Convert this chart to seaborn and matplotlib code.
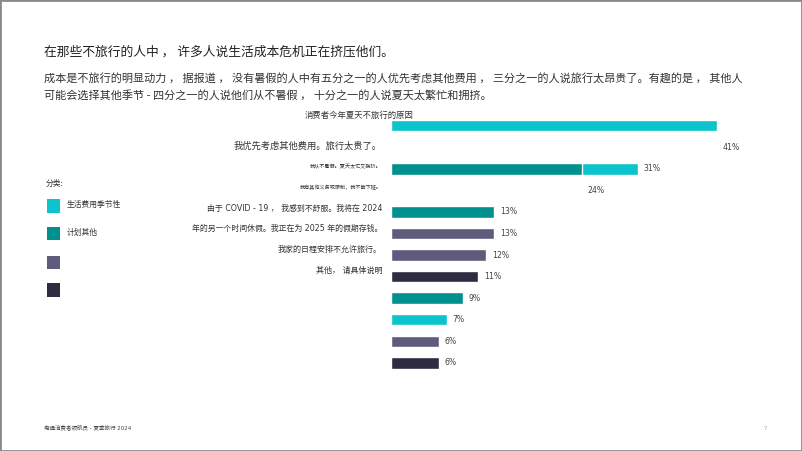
import matplotlib
matplotlib.use("Agg")
import matplotlib.pyplot as plt
from matplotlib.patches import Rectangle
import seaborn as sns
import pandas as pd

# ---------------- data ----------------
slots = [f"r{i}" for i in range(12)]
bar_slot = [0, 2, 2, 4, 5, 6, 7, 8, 9, 10, 11]
bar_value = [41, 31, 24, 13, 13, 12, 11, 9, 7, 6, 6]
bar_group = ["生活费用", "生活费用", "季节性", "季节性", "计划", "计划",
             "其他", "季节性", "生活费用", "计划", "其他"]
label_slot = [1, 2, 3, 4, 5, 6, 7, 8, 9, 10, 11]

groups = ["生活费用", "季节性", "计划", "其他"]
group_colors = ["#0BC4CC", "#00918F", "#5E5C7C", "#2E2C40"]
legend_title = "分类:"
legend_labels = ["生活费用季节性", "计划其他", "", ""]

chart_title = "消费者今年夏天不旅行的原因"
reason_labels = [
    "我优先考虑其他费用。旅行太贵了。",
    "我从不暑假。夏天太忙又拥挤。",
    "我有其他义务或限制，我不能下班。",
    "由于 COVID - 19 ， 我感到不舒服。我将在 2024",
    "年的另一个时间休假。我正在为 2025 年的假期存钱。",
    "我家的日程安排不允许旅行。",
    "其他， 请具体说明",
]

title = "在那些不旅行的人中 ， 许多人说生活成本危机正在挤压他们。"
subtitle_lines = [
    "成本是不旅行的明显动力 ， 据报道 ， 没有暑假的人中有五分之一的人优先考虑其他费用 ， 三分之一的人说旅行太昂贵了。有趣的是 ， 其他人",
    "可能会选择其他季节 - 四分之一的人说他们从不暑假 ， 十分之一的人说夏天太繁忙和拥挤。",
]
footer = "电通消费者领航员 - 夏季旅行 2024"
page_no = "7"

# ---------------- style ----------------
sns.set_style("white")
CJK = ["Noto Sans CJK SC", "DejaVu Sans"]
MIX = ["DejaVu Sans", "Noto Sans CJK SC"]
plt.rcParams["font.family"] = CJK

W, H = 802, 451
fig = plt.figure(figsize=(W / 100, H / 100), dpi=100)


def fx(x):
    return x / W


def fy(y):
    return 1 - y / H


# chart axes
ax = fig.add_axes([fx(391), fy(373.6), (397.6) / W, (373.6 - 114.9) / H])
df = pd.DataFrame({
    "slot": [slots[i] for i in bar_slot],
    "value": bar_value,
    "group": bar_group,
})
sns.barplot(data=df, x="value", y="slot", hue="group", hue_order=groups,
            palette=dict(zip(groups, group_colors)), order=slots, dodge=False,
            width=0.53, orient="h", legend=False, ax=ax, saturation=1,
            errorbar=None)
ax.set_xlim(0, 50)
ax.set_ylim(11.5, -0.5)
ax.axis("off")

for v, s in zip(bar_value, label_slot):
    ax.text(v + 0.7, s, f"{v}%", va="center", ha="left", fontsize=5.6,
            family="DejaVu Sans", color="#444444")

# chart title (overlapping the first bar, as in the reference)
fig.text(fx(305), fy(115), chart_title, fontsize=6, va="center", ha="left",
         color="#333333", family=CJK)

# reason labels
reason_y = [146, 167, 187, 208, 228, 249, 270]
reason_size = [6.7, 3.7, 3.7, 5.7, 5.7, 5.8, 5.8]
for txt, y, s in zip(reason_labels, reason_y, reason_size):
    fig.text(fx(382), fy(y), txt, fontsize=s, va="center", ha="right",
             color="#333333", family=MIX)

# legend (manual)
fig.text(fx(46), fy(184), legend_title, fontsize=5.6, va="center", ha="left",
         color="#333333", family=CJK)
leg_y = [206, 233.5, 262.5, 290]
for c, lab, y in zip(group_colors, legend_labels, leg_y):
    fig.patches.append(Rectangle((fx(47), fy(y + 6.7)), 13.4 / W, 13.4 / H,
                                 transform=fig.transFigure, facecolor=c,
                                 edgecolor="none"))
    if lab:
        fig.text(fx(67), fy(y - 1), lab, fontsize=5.6, va="center", ha="left",
                 color="#333333", family=CJK)

# headline texts
fig.text(fx(44), fy(52), title, fontsize=9.2, va="center", ha="left",
         color="#222222", family=CJK)
for txt, y in zip(subtitle_lines, [78, 95]):
    fig.text(fx(44), fy(y), txt, fontsize=8.0, va="center", ha="left",
             color="#333333", family=CJK)

fig.text(fx(44), fy(427), footer, fontsize=4, va="center", ha="left",
         color="#444444", family=MIX)
fig.text(fx(765), fy(428), page_no, fontsize=4, va="center", ha="center",
         color="#aaaaaa", family="DejaVu Sans")

# slide border
fig.patches.append(Rectangle((0, 0), 1, 1, transform=fig.transFigure,
                             fill=False, edgecolor="#8a8a8a", lw=2))

fig.savefig("out.png", dpi=100)
